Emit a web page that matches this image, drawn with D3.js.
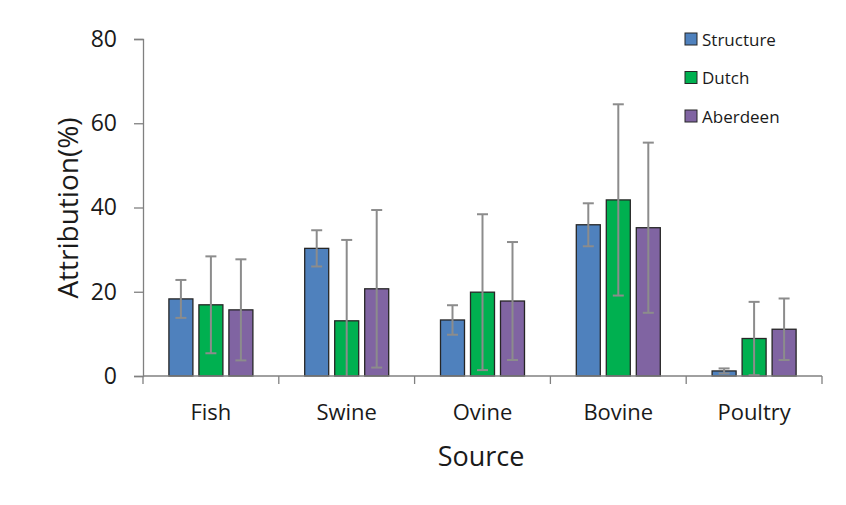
<!DOCTYPE html>
<html>
<head>
<meta charset="utf-8">
<script src="https://cdn.jsdelivr.net/npm/d3@7"></script>
<style>
  html, body { margin: 0; padding: 0; background: #fff; }
  svg text { font-family: "Open Sans", "Noto Sans", sans-serif; fill: #1a1a1a; }
</style>
</head>
<body>
<svg id="chart" width="846" height="505"></svg>
<script>
// Source attribution estimates (%) with error ranges
const categories = ["Fish", "Swine", "Ovine", "Bovine", "Poultry"];
const seriesNames = ["Structure", "Dutch", "Aberdeen"];
const structureValues = [18.3, 30.3, 13.3, 35.9, 1.2];
const structureErrors = [4.5, 4.3, 3.5, 5.1, 0.6];
const dutchValues = [16.9, 13.1, 19.9, 41.8, 8.9];
const dutchErrors = [11.5, 19.2, 18.5, 22.7, 8.7];
const aberdeenValues = [15.7, 20.7, 17.8, 35.2, 11.1];
const aberdeenErrors = [12.0, 18.7, 14.0, 20.2, 7.3];
const yTicks = [0, 20, 40, 60, 80];
const seriesColors = ["#4f81bd", "#00b050", "#8064a2"];

const values = [structureValues, dutchValues, aberdeenValues];
const errors = [structureErrors, dutchErrors, aberdeenErrors];

const rows = [];
categories.forEach((c, i) => {
  seriesNames.forEach((s, j) => {
    rows.push({ category: c, series: s, value: values[j][i], err: errors[j][i] });
  });
});

const svg = d3.select("#chart");
const plotLeft = 143, plotRight = 822, plotTop = 39, plotBottom = 376;
const axisColor = "#808080";

const x = d3.scaleBand().domain(categories).range([plotLeft, plotRight]).padding(0);
const xInner = d3.scaleBand().domain(seriesNames)
  .range([x.bandwidth() / 2 - 45, x.bandwidth() / 2 + 45])
  .paddingInner(0.2).paddingOuter(0.1);
const y = d3.scaleLinear().domain([0, 80]).range([plotBottom, plotTop]);
const color = d3.scaleOrdinal().domain(seriesNames).range(seriesColors);

// Y axis
const yAxis = svg.append("g")
  .attr("transform", `translate(${plotLeft},0)`)
  .call(d3.axisLeft(y).tickValues(yTicks).tickSize(9).tickPadding(17));
yAxis.select(".domain").attr("stroke", axisColor).attr("stroke-width", 1.3);
yAxis.selectAll(".tick line").attr("stroke", axisColor).attr("stroke-width", 1.3);
yAxis.selectAll(".tick text").attr("font-size", 23).attr("fill", "#1a1a1a")
  .style("font-family", "'Open Sans', sans-serif");

// Bars
const groups = svg.append("g").selectAll("g")
  .data(categories).join("g")
  .attr("transform", d => `translate(${x(d)},0)`);

groups.selectAll("rect")
  .data(c => rows.filter(r => r.category === c))
  .join("rect")
  .attr("x", d => xInner(d.series))
  .attr("width", xInner.bandwidth())
  .attr("y", d => y(d.value))
  .attr("height", d => y(0) - y(d.value))
  .attr("fill", d => color(d.series))
  .attr("stroke", "#262626")
  .attr("stroke-width", 1.3);

// Error bars (clipped at zero; no cap where clipped)
const errG = groups.selectAll("g.err")
  .data(c => rows.filter(r => r.category === c))
  .join("g").attr("class", "err");
const cx = d => xInner(d.series) + xInner.bandwidth() / 2;
errG.append("line")
  .attr("x1", cx).attr("x2", cx)
  .attr("y1", d => y(Math.max(0, d.value - d.err)))
  .attr("y2", d => y(d.value + d.err))
  .attr("stroke", "#8c8c8c").attr("stroke-width", 2);
errG.append("line")
  .attr("x1", d => cx(d) - 5.5).attr("x2", d => cx(d) + 5.5)
  .attr("y1", d => y(d.value + d.err)).attr("y2", d => y(d.value + d.err))
  .attr("stroke", "#8c8c8c").attr("stroke-width", 2);
errG.filter(d => d.value - d.err > 0).append("line")
  .attr("x1", d => cx(d) - 5.5).attr("x2", d => cx(d) + 5.5)
  .attr("y1", d => y(d.value - d.err)).attr("y2", d => y(d.value - d.err))
  .attr("stroke", "#8c8c8c").attr("stroke-width", 2);

// X axis with boundary ticks between categories
const xAxisG = svg.append("g");
xAxisG.append("line")
  .attr("x1", plotLeft).attr("x2", plotRight).attr("y1", plotBottom).attr("y2", plotBottom)
  .attr("stroke", axisColor).attr("stroke-width", 1.3);
const boundaries = categories.map(c => x(c)).concat([x(categories[categories.length - 1]) + x.bandwidth()]);
xAxisG.selectAll("line.bt").data(boundaries).join("line").attr("class", "bt")
  .attr("x1", d => d).attr("x2", d => d)
  .attr("y1", plotBottom).attr("y2", plotBottom + 8)
  .attr("stroke", axisColor).attr("stroke-width", 1.3);
xAxisG.selectAll("text").data(categories).join("text")
  .attr("x", d => x(d) + x.bandwidth() / 2)
  .attr("y", 420)
  .attr("text-anchor", "middle")
  .attr("font-size", 22)
  .text(d => d);

// Axis titles
svg.append("text")
  .attr("transform", "translate(78,208) rotate(-90)")
  .attr("text-anchor", "middle")
  .attr("font-size", 28)
  .text("Attribution(%)");
svg.append("text")
  .attr("x", 481).attr("y", 466)
  .attr("text-anchor", "middle")
  .attr("font-size", 27)
  .text("Source");

// Legend
const legend = svg.append("g").selectAll("g")
  .data(seriesNames).join("g")
  .attr("transform", (d, i) => `translate(685,${39 + i * 38.5})`);
legend.append("rect")
  .attr("x", 0).attr("y", -6).attr("width", 12).attr("height", 12)
  .attr("fill", d => color(d)).attr("stroke", "#262626").attr("stroke-width", 1);
legend.append("text")
  .attr("x", 17).attr("y", 6.5)
  .attr("font-size", 17)
  .text(d => d);
</script>
</body>
</html>
